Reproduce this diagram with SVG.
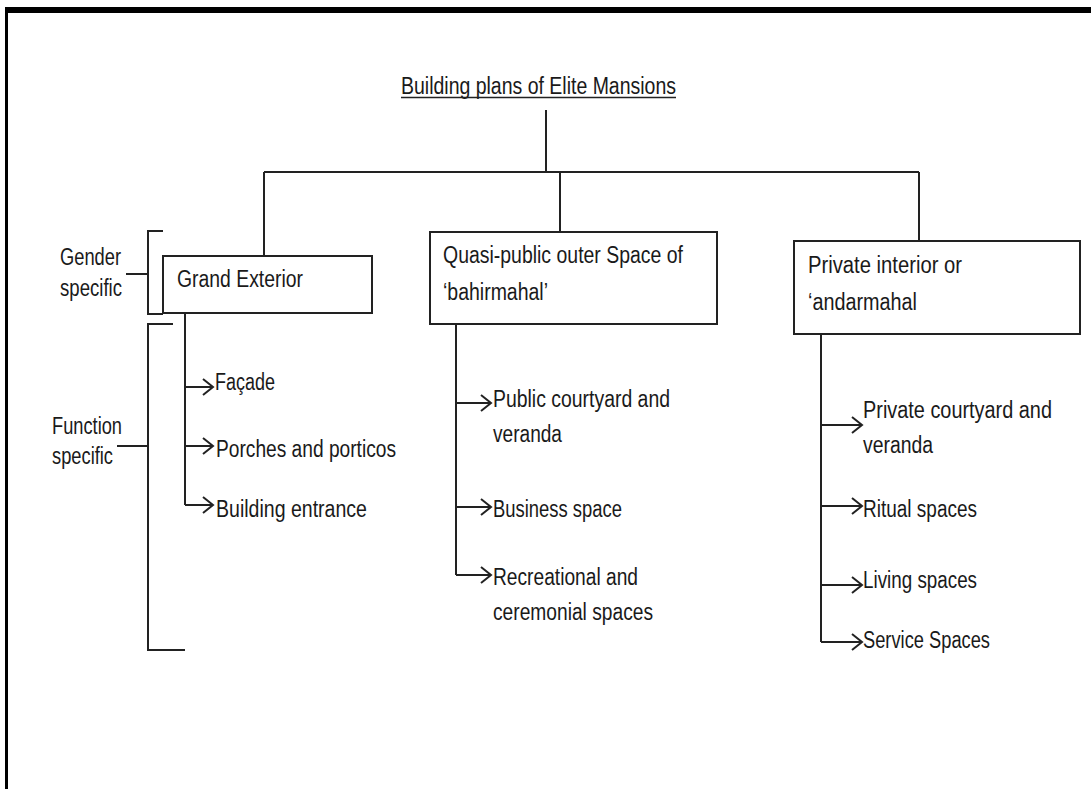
<svg xmlns="http://www.w3.org/2000/svg" width="1091" height="789" viewBox="0 0 1091 789">
<defs>
<style>
.t{font-family:"Liberation Sans",Arial,sans-serif;font-size:23.5px;fill:#1a1a1a}
.ln{stroke:#222;stroke-width:2;fill:none}
.bx{stroke:#222;stroke-width:2;fill:#fff}
</style>
<marker id="ah" markerUnits="userSpaceOnUse" markerWidth="14" markerHeight="20" viewBox="0 0 14 20" refX="12" refY="10" orient="auto">
<path d="M2,2 L12,10 L2,18" stroke="#222" stroke-width="2" fill="none"/>
</marker>
</defs>
<rect width="1091" height="789" fill="#fff"/>
<g id="frame">
<rect x="5" y="7" width="1086" height="6" fill="#000"/>
<rect x="5" y="7" width="3" height="782" fill="#000"/>
</g>
<g id="title">
<text class="t" x="401" y="94" textLength="275" lengthAdjust="spacingAndGlyphs">Building plans of Elite Mansions</text>
<line x1="401" y1="97.5" x2="676" y2="97.5" stroke="#222" stroke-width="1.5"/>
</g>
<g id="connectors">
<path class="ln" d="M546,110 V172 M264,172 H919 M264,172 V256 M560,172 V232 M919,172 V241"/>
<path class="ln" d="M163,231 H148 V314 H163 M126,274 H148"/>
<path class="ln" d="M173,324 H148 V650 H185 M117,446 H148"/>
<path class="ln" d="M185,313 V505"/>
<path class="ln" d="M185,387 H213" marker-end="url(#ah)"/>
<path class="ln" d="M185,446 H213" marker-end="url(#ah)"/>
<path class="ln" d="M185,505 H213" marker-end="url(#ah)"/>
<path class="ln" d="M456,324 V575"/>
<path class="ln" d="M456,403 H491" marker-end="url(#ah)"/>
<path class="ln" d="M456,507 H491" marker-end="url(#ah)"/>
<path class="ln" d="M456,575 H491" marker-end="url(#ah)"/>
<path class="ln" d="M821,334 V642"/>
<path class="ln" d="M821,425 H862" marker-end="url(#ah)"/>
<path class="ln" d="M821,506 H862" marker-end="url(#ah)"/>
<path class="ln" d="M821,585 H862" marker-end="url(#ah)"/>
<path class="ln" d="M821,642 H862" marker-end="url(#ah)"/>
</g>
<g id="gender-label">
<text class="t" x="60" y="265" textLength="61" lengthAdjust="spacingAndGlyphs">Gender</text>
<text class="t" x="60" y="296" textLength="62" lengthAdjust="spacingAndGlyphs">specific</text>
</g>
<g id="function-label">
<text class="t" x="52" y="434" textLength="70" lengthAdjust="spacingAndGlyphs">Function</text>
<text class="t" x="52" y="464" textLength="61" lengthAdjust="spacingAndGlyphs">specific</text>
</g>
<g id="grand-exterior">
<rect class="bx" x="163" y="256" width="209" height="57"/>
<text class="t" x="177" y="287" textLength="126" lengthAdjust="spacingAndGlyphs">Grand Exterior</text>
</g>
<g id="facade"><text class="t" x="215" y="390" textLength="60" lengthAdjust="spacingAndGlyphs">Façade</text></g>
<g id="porches"><text class="t" x="216" y="457" textLength="180" lengthAdjust="spacingAndGlyphs">Porches and porticos</text></g>
<g id="entrance"><text class="t" x="216" y="517" textLength="151" lengthAdjust="spacingAndGlyphs">Building entrance</text></g>
<g id="bahirmahal">
<rect class="bx" x="430" y="232" width="287" height="92"/>
<text class="t" x="443" y="263" textLength="240" lengthAdjust="spacingAndGlyphs">Quasi-public outer Space of</text>
<text class="t" x="443" y="300" textLength="105" lengthAdjust="spacingAndGlyphs">‘bahirmahal’</text>
</g>
<g id="public-courtyard">
<text class="t" x="493" y="407" textLength="177" lengthAdjust="spacingAndGlyphs">Public courtyard and</text>
<text class="t" x="493" y="442" textLength="69" lengthAdjust="spacingAndGlyphs">veranda</text>
</g>
<g id="business"><text class="t" x="493" y="517" textLength="129" lengthAdjust="spacingAndGlyphs">Business space</text></g>
<g id="recreational">
<text class="t" x="493" y="585" textLength="145" lengthAdjust="spacingAndGlyphs">Recreational and</text>
<text class="t" x="493" y="620" textLength="160" lengthAdjust="spacingAndGlyphs">ceremonial spaces</text>
</g>
<g id="andarmahal">
<rect class="bx" x="794" y="241" width="286" height="93"/>
<text class="t" x="808" y="273" textLength="154" lengthAdjust="spacingAndGlyphs">Private interior or</text>
<text class="t" x="808" y="310" textLength="109" lengthAdjust="spacingAndGlyphs">‘andarmahal</text>
</g>
<g id="private-courtyard">
<text class="t" x="863" y="418" textLength="189" lengthAdjust="spacingAndGlyphs">Private courtyard and</text>
<text class="t" x="863" y="453" textLength="70" lengthAdjust="spacingAndGlyphs">veranda</text>
</g>
<g id="ritual"><text class="t" x="863" y="517" textLength="114" lengthAdjust="spacingAndGlyphs">Ritual spaces</text></g>
<g id="living"><text class="t" x="863" y="588" textLength="114" lengthAdjust="spacingAndGlyphs">Living spaces</text></g>
<g id="service"><text class="t" x="863" y="648" textLength="127" lengthAdjust="spacingAndGlyphs">Service Spaces</text></g>
</svg>
